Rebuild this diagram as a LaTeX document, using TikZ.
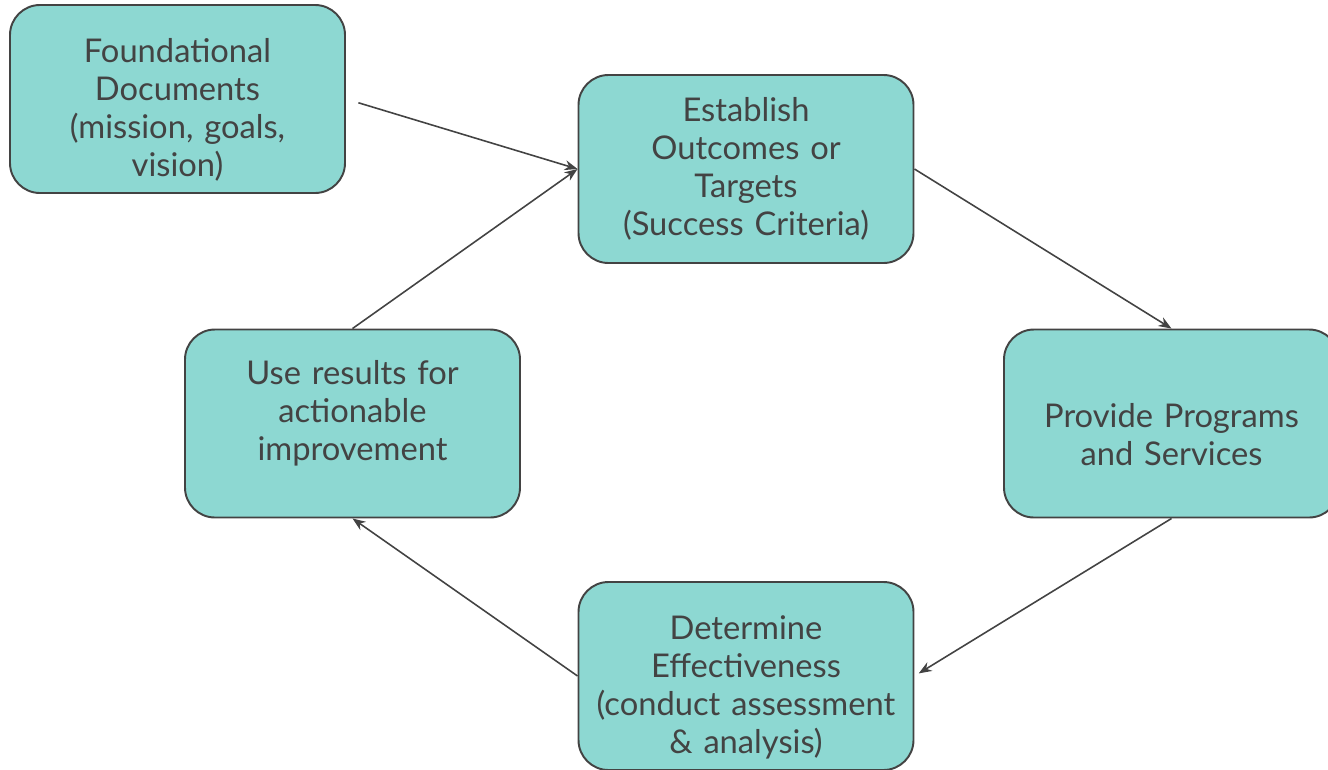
\documentclass[tikz,border=0pt]{standalone}
\usepackage{fontspec}
\setmainfont{Lato}
\usetikzlibrary{arrows.meta}
\definecolor{boxfill}{RGB}{141,216,210}
\definecolor{inkgray}{RGB}{67,67,67}
\tikzset{
  stagebox/.style={draw=inkgray, line width=1.1pt, fill=boxfill, rounded corners=0.6cm,
    minimum width=6.7cm, minimum height=3.76cm, text width=6.3cm, align=center,
    text=inkgray, font=\fontsize{18.6}{21.6}\selectfont},
  lowtext/.style={execute at begin node={\rule{0pt}{0.92cm}}},
  hightext/.style={execute at end node={\rule[-0.53cm]{0pt}{0pt}}},
  flow/.style={draw=inkgray, line width=0.9pt, -{Stealth[length=0.26cm, width=0.2cm]}}
}
\begin{document}
\begin{tikzpicture}
\useasboundingbox (0,0) rectangle (26.56,-15.38);
\node[stagebox, lowtext] (found) at (3.55,-1.98) {Foundational\\Documents\\(mission, goals,\\vision)};
\node[stagebox] (establish) at (14.92,-3.38) {Establish\\Outcomes or\\Targets\\(Success Criteria)};
\node[stagebox, lowtext] (provide) at (23.43,-8.47) {Provide Programs\\and Services};
\node[stagebox, lowtext] (determine) at (14.92,-13.52) {Determine\\Effectiveness\\(conduct assessment\\\& analysis)};
\node[stagebox, hightext] (useres) at (7.05,-8.47) {Use results for\\actionable\\improvement};
% cycle
\draw[flow, shorten <=0.26cm] (found.east) -- (establish.west);
\draw[flow] (establish.east) -- (provide.north);
\draw[flow, shorten >=0.1cm] (provide.south) -- (determine.east);
\draw[flow] (determine.west) -- (useres.south);
\draw[flow] (useres.north) -- (establish.west);
\end{tikzpicture}
\end{document}
